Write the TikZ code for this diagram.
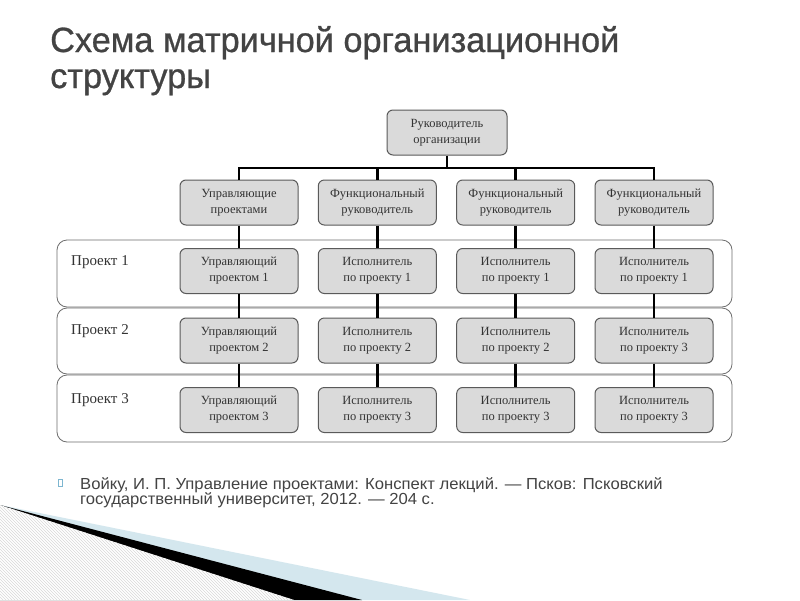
\documentclass[tikz,border=0pt]{standalone}
\usepackage{fontspec}
\setmainfont{Liberation Serif}
\newfontfamily\titlefont[FakeStretch=0.98,FakeBold=0.8]{Liberation Sans}
\newfontfamily\citefont[FakeStretch=1.04]{Liberation Sans}
\usetikzlibrary{patterns}
\definecolor{boxfill}{HTML}{DADADA}
\definecolor{boxline}{HTML}{5A5A5A}
\definecolor{titlegray}{HTML}{434343}
\definecolor{bandline}{HTML}{6E6E6E}
\definecolor{decoblue}{HTML}{D4E7EE}
\definecolor{bulletblue}{HTML}{7DB6D0}
\definecolor{boxtext}{HTML}{333333}
\begin{document}
\begin{tikzpicture}[x=1pt,y=-1pt,
  orgbox/.style={draw=boxline, fill=boxfill, line width=1pt, rounded corners=6pt,
    minimum width=118pt, minimum height=45pt, align=center,
    font=\fontsize{12.5}{16}\selectfont, text=boxtext, inner sep=0pt},
  band/.style={draw=bandline, fill=white, line width=0.8pt, rounded corners=10pt},
  conn/.style={line width=2.6pt, black},
  projlabel/.style={anchor=base west, font=\fontsize{15}{18}\selectfont, text=boxtext, inner sep=0pt},
  titletext/.style={anchor=base west, inner sep=0pt, font=\titlefont\fontsize{35}{40}\selectfont, text=titlegray},
  citetext/.style={anchor=base west, inner sep=0pt, font=\citefont\fontsize{16}{16}\selectfont, text=titlegray},
]
\useasboundingbox (0,0) rectangle (800,600);
\fill[white] (0,0) rectangle (800,600);

% bottom decoration
\fill[decoblue] (0,505) -- (470,600) -- (0,600) -- cycle;
\fill[black] (0,505) -- (362,600) -- (0,600) -- cycle;
\fill[white] (0,505) -- (294,600) -- (0,600) -- cycle;
\fill[pattern=north west lines, pattern color=black!15] (0,505) -- (294,600) -- (0,600) -- cycle;

% title
\node[titletext] (t1) at (50,52) {Схема матричной организационной};
\node[titletext] (t2) at (50,88) {структуры};

% project bands
\draw[band] (57,240) rectangle (732,307);
\draw[band] (57,308) rectangle (732,374);
\draw[band] (57,375) rectangle (732,442);
\node[projlabel] (l1) at (71,265) {Проект 1};
\node[projlabel] (l2) at (71,334) {Проект 2};
\node[projlabel] (l3) at (71,403) {Проект 3};

% boxes
\node[orgbox, minimum width=120pt] (head) at (447,132.5) {Руководитель\\организации};
\node[orgbox] (m0) at (239,202.5) {Управляющие\\проектами};
\node[orgbox] (f1) at (377.3,202.5) {Функциональный\\руководитель};
\node[orgbox] (f2) at (515.7,202.5) {Функциональный\\руководитель};
\node[orgbox] (f3) at (654,202.5) {Функциональный\\руководитель};

\node[orgbox] (a0) at (239,271) {Управляющий\\проектом 1};
\node[orgbox] (a1) at (377.3,271) {Исполнитель\\по проекту 1};
\node[orgbox] (a2) at (515.7,271) {Исполнитель\\по проекту 1};
\node[orgbox] (a3) at (654,271) {Исполнитель\\по проекту 1};

\node[orgbox] (b0) at (239,340.5) {Управляющий\\проектом 2};
\node[orgbox] (b1) at (377.3,340.5) {Исполнитель\\по проекту 2};
\node[orgbox] (b2) at (515.7,340.5) {Исполнитель\\по проекту 2};
\node[orgbox] (b3) at (654,340.5) {Исполнитель\\по проекту 3};

\node[orgbox] (c0) at (239,410) {Управляющий\\проектом 3};
\node[orgbox] (c1) at (377.3,410) {Исполнитель\\по проекту 3};
\node[orgbox] (c2) at (515.7,410) {Исполнитель\\по проекту 3};
\node[orgbox] (c3) at (654,410) {Исполнитель\\по проекту 3};

% connectors
\coordinate (bus) at (447,168);
\draw[conn] (head.south) -- (bus);
\draw[conn] (m0.north) |- (bus) -| (f3.north);
\draw[conn] (f1.north) -- (f1.north |- bus);
\draw[conn] (f2.north) -- (f2.north |- bus);
\foreach \i in {0,1,2,3}{
  \ifnum\i=0 \def\top{m0}\else \def\top{f\i}\fi
  \draw[conn] (\top.south) -- (a\i.north);
  \draw[conn] (a\i.south) -- (b\i.north);
  \draw[conn] (b\i.south) -- (c\i.north);
}

% citation
\node[draw=bulletblue, line width=0.7pt, minimum width=4.5pt, minimum height=7pt, inner sep=0pt] (bul) at (60.5,482.5) {};
\node[citetext] (r1) at (80,489) {Войку, И. П. Управление проектами: Конспект лекций. — Псков: Псковский};
\node[citetext] (r2) at (80,504) {государственный университет, 2012. — 204 с.};
\end{tikzpicture}
\end{document}
